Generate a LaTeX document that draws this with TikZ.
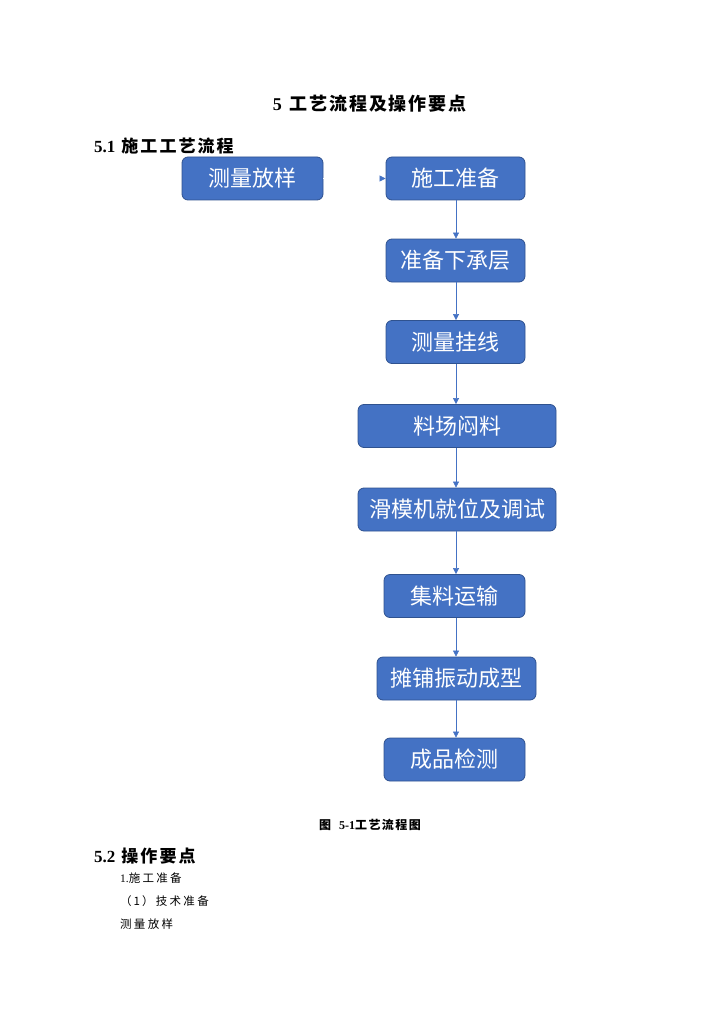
\documentclass[tikz,border=0pt]{standalone}
\usepackage{fontspec}
\setmainfont{Liberation Serif}
\newfontfamily\cjk{Noto Sans CJK SC}
\newfontfamily\cjksp{Noto Sans CJK SC}[LetterSpace=20]
\usetikzlibrary{arrows.meta}
\definecolor{boxblue}{HTML}{4472C4}
\definecolor{boxedge}{HTML}{2F528F}
\tikzset{
  flowbox/.style={draw=boxedge, fill=boxblue, line width=0.8pt, rounded corners=6pt,
    minimum height=43pt, text=white, font=\cjk\fontsize{22}{24}\selectfont, inner sep=0pt},
  flowarrow/.style={draw=boxblue, line width=0.6pt, -{Triangle[width=6pt,length=6pt]}},
  ghostarrow/.style={draw=white, line width=0.6pt, -{Triangle[width=6pt,length=6pt,color=boxblue]}},
  txt/.style={anchor=west, inner sep=0pt, text=black}
}
\begin{document}
\begin{tikzpicture}[x=1pt,y=-1pt]
\useasboundingbox (0,0) rectangle (724,1024);
% headings
\node[anchor=center, inner sep=0pt] (title) at (369.5,104)
  {\fontsize{18}{20}\selectfont\bfseries 5\hspace{8pt}{\cjk\bfseries\addfontfeature{LetterSpace=10}工艺流程及操作要点}};
\node[txt] (h51) at (94,146)
  {\fontsize{17}{20}\selectfont\bfseries 5.1\hspace{6pt}{\cjk\bfseries\addfontfeature{LetterSpace=12}施工工艺流程}};
% boxes
\node[flowbox, minimum width=141pt] (b0) at (252.5,178.5) {测量放样};
\node[flowbox, minimum width=139pt] (b1) at (455.5,178.5) {施工准备};
\node[flowbox, minimum width=139pt] (b2) at (455.5,260.5) {准备下承层};
\node[flowbox, minimum width=139pt] (b3) at (455.5,342) {测量挂线};
\node[flowbox, minimum width=198pt] (b4) at (457,426) {料场闷料};
\node[flowbox, minimum width=198pt] (b5) at (457,509.5) {滑模机就位及调试};
\node[flowbox, minimum width=141pt] (b6) at (454.5,596) {集料运输};
\node[flowbox, minimum width=159pt] (b7) at (456.5,678.5) {摊铺振动成型};
\node[flowbox, minimum width=141pt] (b8) at (454.5,759.5) {成品检测};
% connectors
\draw[ghostarrow] (b0) -- (b1);
\draw[flowarrow] (b1.south -| 456,0) -- (b2.north -| 456,0);
\draw[flowarrow] (b2.south -| 456,0) -- (b3.north -| 456,0);
\draw[flowarrow] (b3.south -| 456,0) -- (b4.north -| 456,0);
\draw[flowarrow] (b4.south -| 456,0) -- (b5.north -| 456,0);
\draw[flowarrow] (b5.south -| 456,0) -- (b6.north -| 456,0);
\draw[flowarrow] (b6.south -| 456,0) -- (b7.north -| 456,0);
\draw[flowarrow] (b7.south -| 456,0) -- (b8.north -| 456,0);
% caption and text
\node[anchor=center, inner sep=0pt] (cap) at (370,825)
  {\fontsize{12}{14}\selectfont\bfseries{\cjk\bfseries 图}\hspace{8pt}5-1{\cjk\bfseries\addfontfeature{LetterSpace=12}工艺流程图}};
\node[txt] (h52) at (94,856)
  {\fontsize{17}{20}\selectfont\bfseries 5.2\hspace{6pt}{\cjk\bfseries\addfontfeature{LetterSpace=12}操作要点}};
\node[txt] (t1) at (120,878)
  {\fontsize{11.5}{14}\selectfont 1.{\cjksp 施工准备}};
\node[txt] (t2) at (120,901)
  {\fontsize{11.5}{14}\selectfont\cjksp （\hspace{2pt}1\hspace{2pt}）技术准备};
\node[txt] (t3) at (120,924)
  {\fontsize{11.5}{14}\selectfont\cjksp 测量放样};
\end{tikzpicture}
\end{document}
